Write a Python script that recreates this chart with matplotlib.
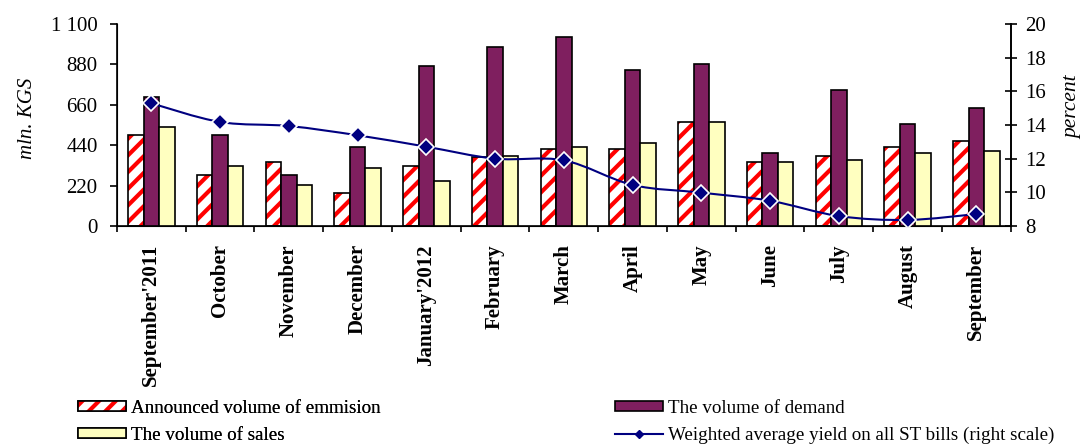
import numpy as np
import matplotlib.pyplot as plt
from matplotlib.path import Path
from matplotlib.patches import PathPatch, Patch
from matplotlib.lines import Line2D

plt.rcParams['font.family'] = ['Liberation Serif', 'DejaVu Serif']
plt.rcParams['hatch.linewidth'] = 3.0

# Monthly auction data
months = ["September'2011", "October", "November", "December", "January'2012",
          "February", "March", "April", "May", "June", "July", "August", "September"]
emission = [496, 276, 349, 182, 329, 378, 421, 421, 567, 347, 380, 432, 461]
demand = [705, 496, 276, 432, 870, 976, 1028, 850, 883, 400, 738, 556, 641]
sales = [538, 329, 223, 316, 244, 382, 432, 452, 567, 347, 358, 400, 410]
yield_pct = [15.29, 14.18, 13.94, 13.39, 12.71, 12.0, 11.9, 10.44, 9.98, 9.5, 8.59, 8.36, 8.71]

c_red = '#FF0000'
c_demand = '#7F1F5F'
c_sales = '#FFFFC0'
c_line = '#000080'

fig = plt.figure(figsize=(10.81, 4.47), dpi=100)
ax = fig.add_axes([0.1082, 0.4944, 0.8268, 0.4519])

x = np.arange(len(months))
w = 0.225

# emission bars: red stripes on white, black outline on top
ax.bar(x - w, emission, w, color='white', edgecolor=c_red, hatch='//', linewidth=0, zorder=2)
ax.bar(x - w, emission, w, fill=False, edgecolor='black', linewidth=1.2, zorder=3)
ax.bar(x, demand, w, color=c_demand, edgecolor='black', linewidth=1.2, zorder=3)
ax.bar(x + w, sales, w, color=c_sales, edgecolor='black', linewidth=1.2, zorder=3)

ax.set_xlim(-0.5, len(months) - 0.5)
ax.set_ylim(0, 1100)
ax.set_yticks(np.arange(0, 1101, 220))
ax.set_yticklabels(['0', '220', '440', '660', '880', '1 100'])

# ticks between months, labels centred under each group
ax.set_xticks(np.arange(-0.5, len(months), 1.0))
ax.set_xticklabels([])
ax.set_xticks(x, minor=True)
ax.set_xticklabels(months, minor=True, rotation=90, fontsize=15, fontweight='bold',
                   va='top', ha='center')
ax.tick_params(axis='x', which='major', direction='out', length=4, width=1.2)
ax.tick_params(axis='x', which='minor', length=0, pad=13)
ax.tick_params(axis='y', direction='out', length=5, width=1.2, labelsize=15, pad=9)
ax.spines['top'].set_visible(False)
for s in ['left', 'right', 'bottom']:
    ax.spines[s].set_linewidth(1.2)

fig.text(27 / 1081, 1 - 118 / 447, 'mln. KGS', rotation=90, ha='center', va='center',
         fontsize=15, style='italic')

ax2 = ax.twinx()
ax2.set_ylim(8, 20)
ax2.set_yticks(np.arange(8, 21, 2))
ax2.tick_params(axis='y', direction='inout', length=9, width=1.2, labelsize=15, pad=6)
ax2.spines['top'].set_visible(False)
ax2.spines['right'].set_linewidth(1.2)

fig.text(1073 / 1081, 1 - 107 / 447, 'percent', rotation=90, ha='center', va='center',
         fontsize=15.5, style='italic')

# smoothed yield line (Catmull-Rom segments as cubic Bezier)
pts = np.column_stack([x, yield_pct]).astype(float)
verts = [pts[0]]
codes = [Path.MOVETO]
n = len(pts)
for i in range(n - 1):
    p0 = pts[max(i - 1, 0)]
    p1 = pts[i]
    p2 = pts[i + 1]
    p3 = pts[min(i + 2, n - 1)]
    verts += [p1 + (p2 - p0) / 6, p2 - (p3 - p1) / 6, p2]
    codes += [Path.CURVE4] * 3
ax2.add_patch(PathPatch(Path(verts, codes), fill=False, edgecolor=c_line, linewidth=1.5, zorder=4))
ax2.plot(x, yield_pct, linestyle='none', marker='D', markersize=8, color=c_line,
         markeredgecolor='white', markeredgewidth=1.2, zorder=5)

h_em = Patch(facecolor='white', edgecolor=c_red, hatch='//', linewidth=0)
h_em_box = Patch(fill=False, edgecolor='black', linewidth=1.2)
h_sales = Patch(facecolor=c_sales, edgecolor='black', linewidth=1.2)
h_dem = Patch(facecolor=c_demand, edgecolor='black', linewidth=1.2)
h_line = Line2D([], [], color=c_line, linewidth=1.5, marker='D', markersize=4)

leg_kw = dict(loc='upper left', frameon=False, fontsize=13.7, handlelength=2.5,
              handleheight=0.45, labelspacing=0.5, handletextpad=0.3, borderpad=0,
              borderaxespad=0)
leg1 = fig.legend([(h_em, h_em_box), h_sales],
                  ['Announced volume of emmision', 'The volume of sales'],
                  bbox_to_anchor=(78 / 1081, 0.105), **leg_kw)
fig.add_artist(leg1)
fig.legend([h_dem, h_line],
           ['The volume of demand', 'Weighted average yield on all ST bills (right scale)'],
           bbox_to_anchor=(615 / 1081, 0.105), **leg_kw)

fig.savefig('out.png', dpi=100)
